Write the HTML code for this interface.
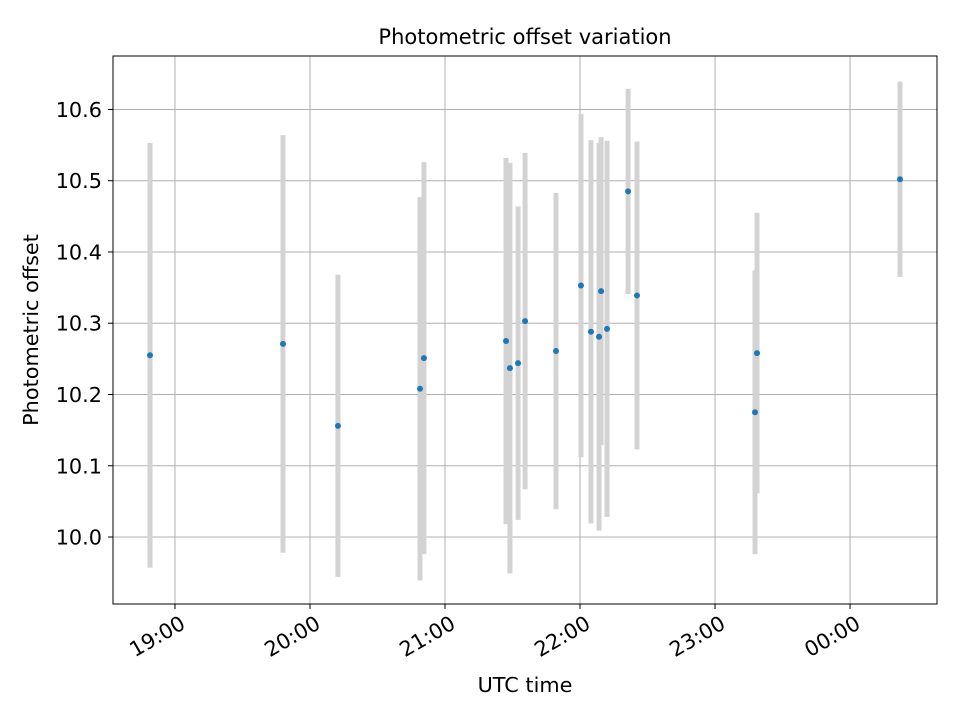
<!DOCTYPE html>
<html><head><meta charset="utf-8"><style>
body{margin:0;background:#fff;}
svg text{font-family:"DejaVu Sans","Liberation Sans",sans-serif;fill:#000;}
</style></head><body>
<svg id="chart" width="960" height="720" xmlns="http://www.w3.org/2000/svg">
<rect width="960" height="720" fill="#fff"/>
<text x="525" y="44" font-size="21" text-anchor="middle">Photometric offset variation</text>
<g id="grid"></g><g id="bars"></g><g id="pts"></g><g id="axes"></g>
<text x="525" y="692" font-size="20.8" text-anchor="middle">UTC time</text>
<text transform="translate(38,330) rotate(-90)" font-size="20.8" text-anchor="middle">Photometric offset</text>
</svg>
<script>
// times in hours after 19:00 UTC
const times=[-0.185,0.80,1.207,1.815,1.844,2.452,2.481,2.541,2.593,2.822,3.007,3.081,3.141,3.156,3.2,3.356,3.422,4.296,4.311,5.37];
const offsets=[10.255,10.271,10.156,10.208,10.251,10.275,10.237,10.244,10.303,10.261,10.353,10.288,10.281,10.345,10.292,10.485,10.339,10.175,10.258,10.502];
const errors=[0.298,0.293,0.212,0.269,0.275,0.257,0.288,0.22,0.236,0.222,0.241,0.269,0.272,0.216,0.264,0.144,0.216,0.199,0.197,0.137];
const xTickVals=[0,1,2,3,4,5];
const xTickLabels=["19:00","20:00","21:00","22:00","23:00","00:00"];
const yTickVals=[10.0,10.1,10.2,10.3,10.4,10.5,10.6];
const yTickLabels=["10.0","10.1","10.2","10.3","10.4","10.5","10.6"];
const L=113,R=937,T=56,B=604,x0=-0.459,x1=5.644,y0=9.906,y1=10.675;
const X=v=>L+(v-x0)/(x1-x0)*(R-L);
const Y=v=>B-(v-y0)/(y1-y0)*(B-T);
const NS="http://www.w3.org/2000/svg";
function mk(tag,parent,attrs){const e=document.createElementNS(NS,tag);for(const k in attrs)e.setAttribute(k,attrs[k]);document.getElementById(parent).appendChild(e);return e;}
xTickVals.forEach((v,i)=>{const x=X(v);
 const g=mk('line','grid',{x1:x,x2:x,y1:T,y2:B,stroke:'#b0b0b0','stroke-width':1});
 
 const t=mk('line','axes',{x1:x,x2:x,y1:B,y2:B+5,stroke:'#000'});
 
 const l=mk('text','axes',{x:x+4,y:B+10,'font-size':20.8,'text-anchor':'end',transform:`rotate(-30 ${x+4} ${B+10})`,dy:'0.75em'});
 l.textContent=xTickLabels[i];
 });
yTickVals.forEach((v,i)=>{const y=Y(v);
 const g=mk('line','grid',{x1:L,x2:R,y1:y,y2:y,stroke:'#b0b0b0','stroke-width':1});
 
 const t=mk('line','axes',{x1:L-5,x2:L,y1:y,y2:y,stroke:'#000'});
 
 const l=mk('text','axes',{x:L-11,y:y+7.5,'font-size':20.8,'text-anchor':'end'});
 l.textContent=yTickLabels[i];
 });
times.forEach((t,i)=>{const x=X(t);
 const b=mk('line','bars',{x1:x,x2:x,y1:Y(offsets[i]+errors[i]),y2:Y(offsets[i]-errors[i]),stroke:'#d3d3d3','stroke-width':5});
 
 const p=mk('circle','pts',{cx:x,cy:Y(offsets[i]),r:3,fill:'#1f77b4'});
 });
const f=mk('rect','axes',{x:L,y:T,width:R-L,height:B-T,fill:'none',stroke:'#000','stroke-width':1});

</script>
</body></html>
